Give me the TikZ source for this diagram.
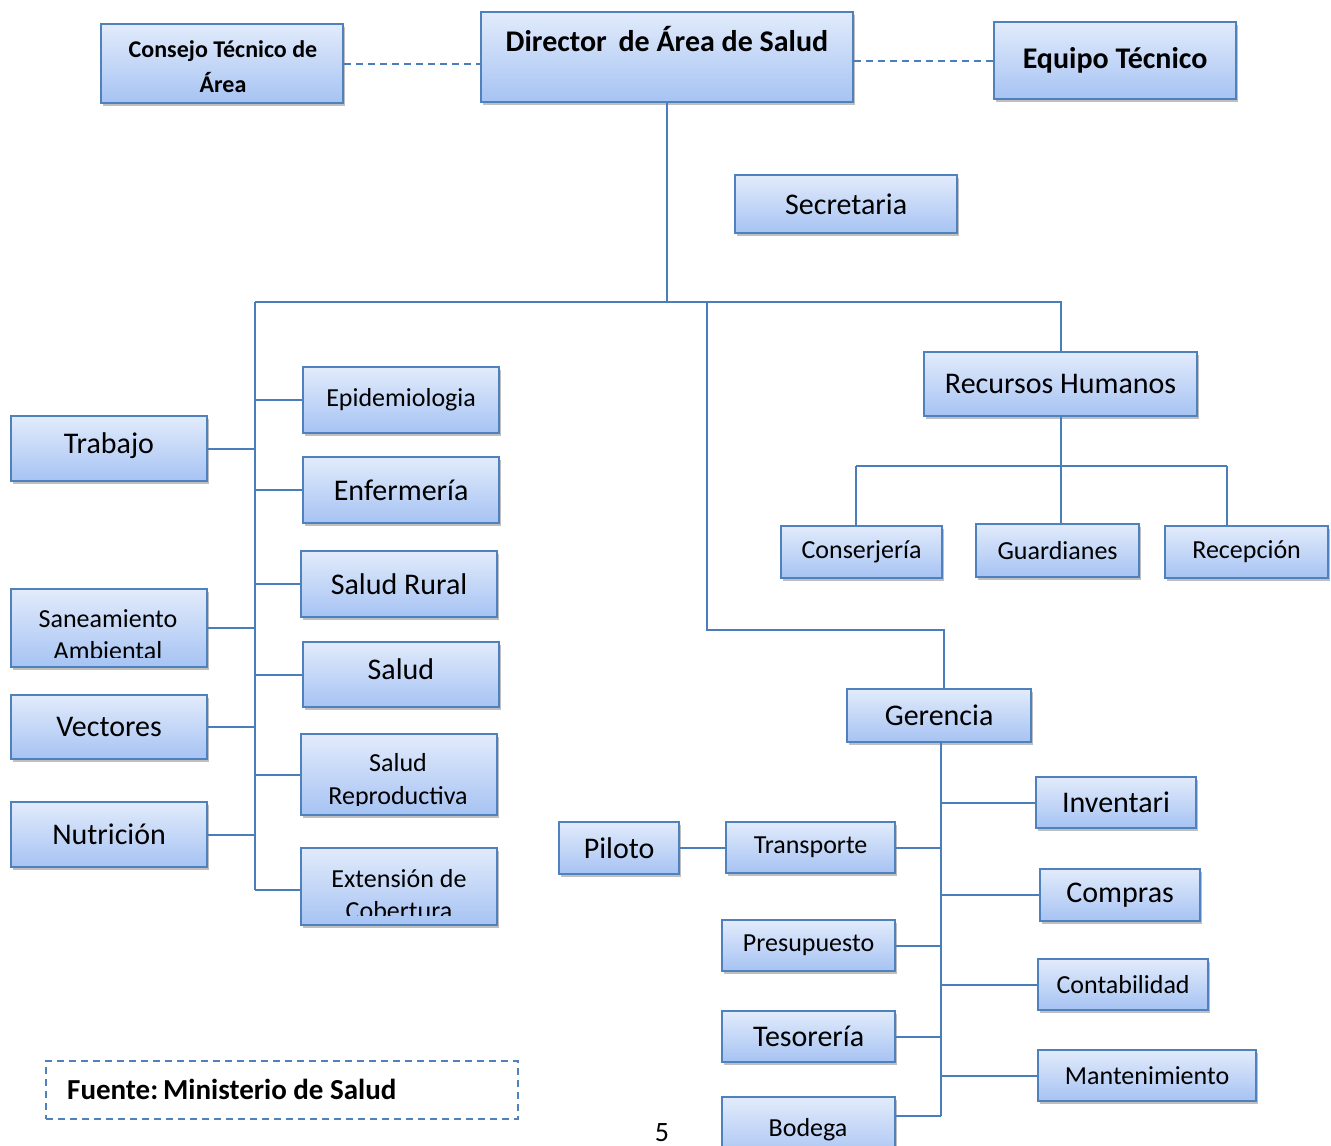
\documentclass[tikz,border=0pt]{standalone}
\usepackage{fontspec}
\setmainfont{Carlito}
\usetikzlibrary{shadows}
\definecolor{boxtop}{HTML}{E2EBFB}
\definecolor{boxbot}{HTML}{A6C3F3}
\definecolor{edgec}{HTML}{4F81BD}
\definecolor{linec}{HTML}{4A7EBB}
\tikzset{
 orgbox/.style={draw=edgec, line width=2.2pt, top color=boxtop, bottom color=boxbot,
   drop shadow={shadow xshift=2pt, shadow yshift=-3pt, fill=black!45, opacity=.55},
   inner sep=0pt, text=black},
 conn/.style={draw=linec, line width=2pt},
 dashconn/.style={conn, dash pattern=on 7pt off 5pt},
 big/.style={font=\fontsize{30}{34}\selectfont},
 mid/.style={font=\fontsize{26}{30}\selectfont},
 hdr/.style={font=\bfseries\fontsize{30}{34}\selectfont},
 txt/.style={anchor=base, inner sep=0pt},
}
\newcommand\ob[7]{\node[orgbox,#6,anchor=north west,minimum width={#4pt-#2pt},minimum height={#5pt-#3pt}] (#1) at (#2,#3) {#7};}
\begin{document}
\begin{tikzpicture}[x=1pt,y=-1pt]
\useasboundingbox[fill=white] (0,0) rectangle (1331,1146);
% top row
\ob{con}{100}{23}{342}{102}{}{}
\begin{scope}\clip (100,25) rectangle (342,93);
\node[txt,font=\bfseries\fontsize{24}{28}\selectfont] (con1) at (223,57) {Consejo Técnico de};
\node[txt,font=\bfseries\fontsize{24}{28}\selectfont] (con2) at (223,92) {Área};
\end{scope}
\ob{dir}{480}{11}{852}{101}{}{}
\node[txt,hdr] (dirt) at (667,51) {Director\, de Área de Salud};
\ob{eq}{993}{21}{1235}{98}{hdr}{Equipo Técnico}
\ob{sec}{734}{174}{956}{232}{big}{Secretaria}
% recursos humanos
\ob{rh}{923}{351}{1196}{415}{big}{Recursos Humanos}
\ob{cons}{780}{525}{941}{577}{mid}{Conserjería}
\ob{guar}{975}{523}{1138}{576}{mid}{Guardianes}
\ob{rec}{1164}{525}{1327}{577}{mid}{Recepción}
% left column
\ob{epi}{302}{366}{498}{432}{mid}{Epidemiologia}
\ob{enf}{302}{456}{498}{522}{big}{Enfermería}
\ob{sru}{300}{550}{496}{616}{big}{Salud Rural}
\ob{sal}{302}{641}{498}{706}{}{}
\node[txt,big] (salt) at (401,679) {Salud};
\ob{srep}{300}{733}{496}{814}{}{}
\begin{scope}\clip (300,735) rectangle (496,805);
\node[txt,mid] (srep1) at (398,771) {Salud};
\node[txt,mid] (srep2) at (398,804) {Reproductiva};
\end{scope}
\ob{ext}{300}{847}{496}{924}{}{}
\begin{scope}\clip (300,849) rectangle (496,915);
\node[txt,mid] (ext1) at (399,887) {Extensión de};
\node[txt,mid] (ext2) at (399,919) {Cobertura};
\end{scope}
\ob{trab}{10}{415}{206}{480}{}{}
\node[txt,big] (trabt) at (109,453) {Trabajo};
\ob{san}{10}{588}{206}{666}{}{}
\begin{scope}\clip (10,590) rectangle (206,657);
\node[txt,mid] (san1) at (108,627) {Saneamiento};
\node[txt,mid] (san2) at (108,659) {Ambiental};
\end{scope}
\ob{vec}{10}{694}{206}{758}{big}{Vectores}
\ob{nut}{10}{801}{206}{866}{big}{Nutrición}
% gerencia
\ob{ger}{846}{688}{1030}{741}{big}{Gerencia}
\ob{inv}{1035}{776}{1195}{827}{big}{Inventari}
\ob{comp}{1039}{868}{1199}{920}{big}{Compras}
\ob{cont}{1037}{958}{1207}{1009}{mid}{Contabilidad}
\ob{mant}{1037}{1049}{1255}{1100}{mid}{Mantenimiento}
\ob{pil}{558}{821}{678}{873}{big}{Piloto}
\ob{trans}{725}{821}{894}{872}{mid}{Transporte}
\ob{pres}{721}{919}{894}{970}{mid}{Presupuesto}
\ob{tes}{721}{1010}{894}{1061}{big}{Tesorería}
\ob{bod}{721}{1096}{894}{1160}{}{}
\begin{scope}\clip (721,1098) rectangle (894,1140);
\node[txt,mid] (bodt) at (808,1136) {Bodega};
\end{scope}
% fuente
\node[draw=edgec, line width=2.2pt, dash pattern=on 7pt off 5pt, anchor=north west,
  minimum width=472pt, minimum height=58pt, inner sep=0pt] (fue) at (45,1060) {};
\node[txt,anchor=base west,font=\bfseries\fontsize{29}{33}\selectfont] (fuet) at (67,1099) {Fuente:\,Ministerio de Salud};
\node[txt,font=\fontsize{28}{32}\selectfont] (pag) at (662,1141) {5};
% connectors
\draw[dashconn] (con.east) -- (con.east -| dir.west);
\draw[dashconn] (eq.west) -- (eq.west -| dir.east);
\coordinate (tL) at (255,302);
\coordinate (tM) at (707,302);
\coordinate (tR) at (1058,302);
\coordinate (lB) at (255,890);
\draw[conn] (dir.south) -- (dir.south |- tL);
\draw[conn] (tL) -- (tR -| rh.north) -- (rh.north);
\draw[conn] (tL) -- (lB);
\foreach \n in {epi,enf,sru,sal,srep}{\draw[conn] (\n.west -| tL) -- (\n.west);}
\draw[conn] (lB) -- (lB -| ext.west);
\foreach \n in {trab,san,vec,nut}{\draw[conn] (\n.east) -- (\n.east -| tL);}
\coordinate (mB) at (707,630);
\coordinate (gN) at (944,688);
\draw[conn] (tM) -- (mB) -| (gN);
% RH children
\coordinate (hc) at (856,466);
\coordinate (hr) at (1227,466);
\draw[conn] (rh.south) -- (rh.south |- guar.north);
\draw[conn] (hc) -- (hr);
\draw[conn] (hc) -- (hc |- cons.north);
\draw[conn] (hr) -- (hr |- rec.north);
% gerencia spine
\coordinate (gT) at (941,741);
\coordinate (gB) at (941,1116);
\draw[conn] (gT) -- (gB);
\foreach \n in {inv,comp,cont,mant}{\draw[conn] (\n.west -| gT) -- (\n.west);}
\foreach \n in {trans,pres,tes}{\draw[conn] (\n.east) -- (\n.east -| gT);}
\draw[conn] (gB) -- (gB -| bod.east);
\draw[conn] (pil.east) -- (pil.east -| trans.west);
\end{tikzpicture}
\end{document}
